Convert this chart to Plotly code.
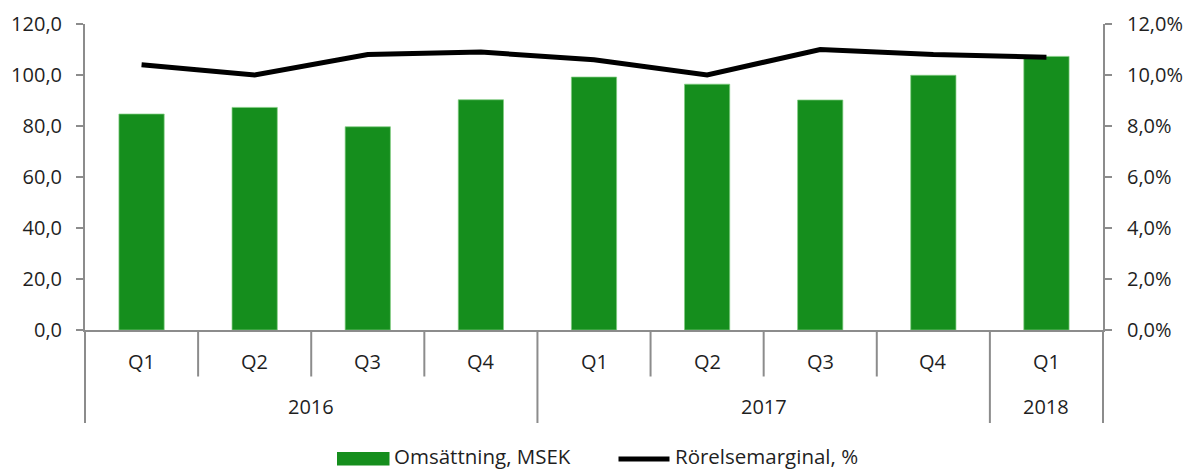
import plotly.graph_objects as go

# ---- data ----
years = ["2016", "2016", "2016", "2016", "2017", "2017", "2017", "2017", "2018"]
quarters = ["Q1", "Q2", "Q3", "Q4", "Q1", "Q2", "Q3", "Q4", "Q1"]
revenue = [84.7, 87.3, 79.7, 90.3, 99.2, 96.4, 90.2, 99.9, 107.3]   # Omsättning, MSEK
margin = [10.4, 10.0, 10.8, 10.9, 10.6, 10.0, 11.0, 10.8, 10.7]     # Rörelsemarginal, %
y_left_ticks = [0, 20, 40, 60, 80, 100, 120]
y_right_ticks = [0, 2, 4, 6, 8, 10, 12]
bar_name = "Omsättning, MSEK"
line_name = "Rörelsemarginal, %"

BAR_COLOR = "#158E1D"
AXIS_COLOR = "#8C8C8C"
FONT = dict(family="Open Sans, Noto Sans, sans-serif", size=20, color="#1f1f1f")
LEG_FONT = dict(family="Open Sans, Noto Sans, sans-serif", size=20.5, color="#1f1f1f")


def fmt(v, suffix=""):
    return f"{v:.1f}".replace(".", ",") + suffix


xs = list(range(len(quarters)))

fig = go.Figure()
fig.add_trace(go.Bar(
    x=xs, y=revenue, name=bar_name, width=0.4,
    marker=dict(color=BAR_COLOR, line=dict(color="rgba(130,205,130,0.9)", width=0.8)),
    showlegend=False, yaxis="y",
))
fig.add_trace(go.Scatter(
    x=xs, y=margin, name=line_name, mode="lines",
    line=dict(color="#000000", width=5),
    showlegend=False, yaxis="y2",
))

W, H = 1194, 470
ML, MR, MT, MB = 85, 91, 24, 140
PW, PH = W - ML - MR, H - MT - MB


def px_x(p):
    return (p - ML) / PW


def px_y(p):
    return (H - MB - p) / PH


shapes = []
annotations = []

# quarter labels
for i, q in enumerate(quarters):
    annotations.append(dict(x=i, y=px_y(361.5), xref="x", yref="paper", text=q,
                            showarrow=False, xanchor="center", yanchor="middle", font=FONT))

# year groups
groups = []
for i, y in enumerate(years):
    if groups and groups[-1][0] == y:
        groups[-1][2] = i
    else:
        groups.append([y, i, i])
for y, a, b in groups:
    annotations.append(dict(x=(a + b) / 2, y=px_y(406.5), xref="x", yref="paper", text=y,
                            showarrow=False, xanchor="center", yanchor="middle", font=FONT))

line_style = dict(color=AXIS_COLOR, width=2)
# inner tick separators between quarters / dividers between years
for i in range(len(quarters) - 1):
    y_end = px_y(376.5) if years[i] == years[i + 1] else px_y(423)
    shapes.append(dict(type="line", xref="x", yref="paper", x0=i + 0.5, x1=i + 0.5,
                       y0=0, y1=y_end, line=line_style))
# outer edges
for xd in (0, 1):
    shapes.append(dict(type="line", xref="x domain", yref="paper", x0=xd, x1=xd,
                       y0=0, y1=px_y(423), line=line_style))

# custom legend
shapes.append(dict(type="rect", xref="paper", yref="paper",
                   x0=px_x(337), x1=px_x(389.5), y0=px_y(465.5), y1=px_y(452),
                   fillcolor=BAR_COLOR, line=dict(width=0)))
annotations.append(dict(x=px_x(393), y=px_y(456), xref="paper", yref="paper", text=bar_name,
                        showarrow=False, xanchor="left", yanchor="middle", font=LEG_FONT,
                        borderpad=0))
shapes.append(dict(type="line", xref="paper", yref="paper",
                   x0=px_x(618.5), x1=px_x(669.5), y0=px_y(459), y1=px_y(459),
                   line=dict(color="#000000", width=5)))
annotations.append(dict(x=px_x(674), y=px_y(456), xref="paper", yref="paper", text=line_name,
                        showarrow=False, xanchor="left", yanchor="middle", font=LEG_FONT,
                        borderpad=0))

fig.update_layout(
    width=W, height=H,
    margin=dict(l=ML, r=MR, t=MT, b=MB, pad=0, autoexpand=False),
    plot_bgcolor="white", paper_bgcolor="white",
    font=FONT,
    showlegend=False,
    xaxis=dict(range=[-0.5, len(quarters) - 0.5], showline=True, linecolor=AXIS_COLOR,
               linewidth=2, showticklabels=False, ticks="", showgrid=False, zeroline=False,
               fixedrange=True, automargin=False),
    yaxis=dict(range=[y_left_ticks[0], y_left_ticks[-1]], tickmode="array",
               tickvals=y_left_ticks, ticktext=[fmt(v) for v in y_left_ticks],
               showline=True, linecolor=AXIS_COLOR, linewidth=2, ticks="outside", ticklen=7,
               tickwidth=2, tickcolor=AXIS_COLOR, showgrid=False, zeroline=False,
               ticklabelstandoff=10, tickfont=FONT, fixedrange=True, automargin=False),
    yaxis2=dict(range=[y_right_ticks[0], y_right_ticks[-1]], tickmode="array",
                tickvals=y_right_ticks, ticktext=[fmt(v, "%") for v in y_right_ticks],
                overlaying="y", side="right", showline=True, linecolor=AXIS_COLOR, linewidth=2,
                ticks="outside", ticklen=7, tickwidth=2, tickcolor=AXIS_COLOR, showgrid=False,
                zeroline=False, ticklabelstandoff=11, tickfont=FONT, fixedrange=True,
                automargin=False),
    shapes=shapes,
    annotations=annotations,
)

fig.write_html(
    "out.html",
    config={"displayModeBar": False},
    post_script="document.body.style.margin='0';document.body.style.padding='0';",
)
